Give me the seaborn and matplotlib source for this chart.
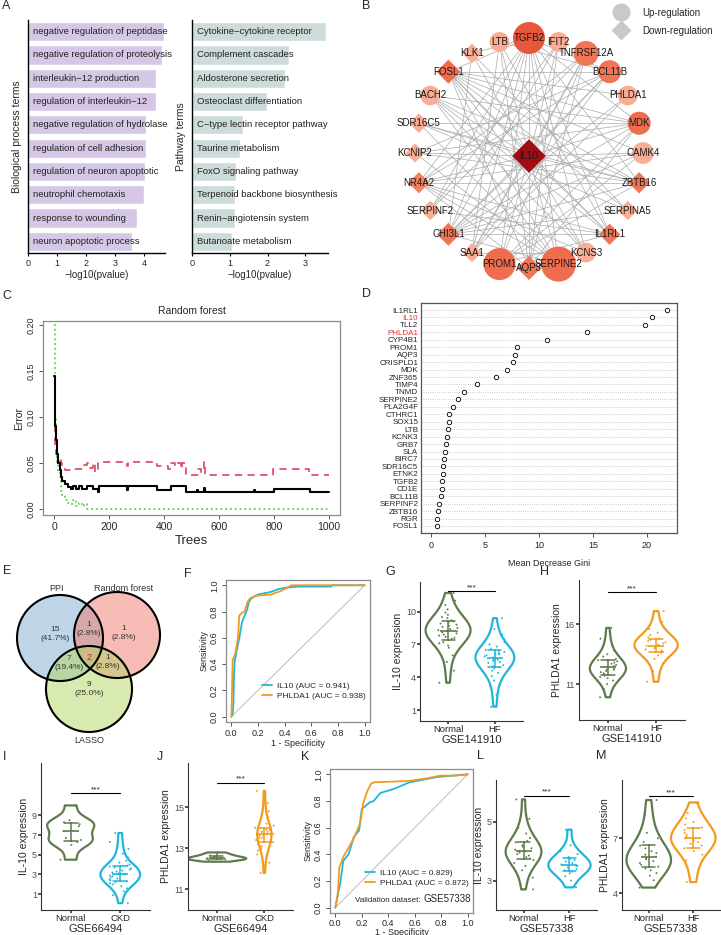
import numpy as np
import pandas as pd
import matplotlib.pyplot as plt
from matplotlib.lines import Line2D
from matplotlib.patches import Circle
from matplotlib.colors import LinearSegmentedColormap
import seaborn as sns

sns.set_style('white')
plt.rcParams['font.family'] = ['Liberation Sans', 'DejaVu Sans']
plt.rcParams['axes.linewidth'] = 0.8
np.random.seed(7)

#### DATA ####
# A: enrichment
bp_terms = ['negative regulation of peptidase', 'negative regulation of proteolysis',
            'interleukin\u221212 production', 'regulation of interleukin\u221212',
            'negative regulation of hydrolase', 'regulation of cell adhesion',
            'regulation of neuron apoptotic', 'neutrophil chemotaxis',
            'response to wounding', 'neuron apoptotic process']
bp_logp = [4.67, 4.60, 4.42, 4.42, 4.07, 4.07, 4.04, 3.98, 3.76, 3.60]
kegg_terms = ['Cytokine\u2212cytokine receptor', 'Complement cascades', 'Aldosterone secretion',
              'Osteoclast differentiation', 'C\u2212type lectin receptor pathway', 'Taurine metabolism',
              'FoxO signaling pathway', 'Terpenoid backbone biosynthesis',
              'Renin\u2212angiotensin system', 'Butanoate metabolism']
kegg_logp = [3.54, 2.58, 2.45, 1.99, 1.36, 1.27, 1.17, 1.14, 1.14, 1.07]

# B: PPI network
ring_genes = ['TGFB2', 'IFIT2', 'TNFRSF12A', 'BCL11B', 'PHLDA1', 'MDK', 'CAMK4', 'ZBTB16',
              'SERPINA5', 'IL1RL1', 'KCNS3', 'SERPINE2', 'AQP3', 'PROM1', 'SAA1', 'CHI3L1',
              'SERPINF2', 'NR4A2', 'KCNIP2', 'SDR16C5', 'BACH2', 'FOSL1', 'KLK1', 'LTB']
ring_reg = ['Up', 'Up', 'Up', 'Up', 'Up', 'Up', 'Up', 'Down', 'Down', 'Down', 'Up', 'Up',
            'Down', 'Up', 'Down', 'Down', 'Down', 'Down', 'Down', 'Down', 'Up', 'Down', 'Down', 'Up']
ring_degree = [14, 5, 10, 10, 5, 11, 5, 10, 5, 10, 5, 11, 10, 11, 5, 10, 5, 9, 5, 5, 5, 11, 5, 5]
ring_lfc = [1.55, 0.8, 1.08, 0.97, 0.8, 0.97, 0.9, 0.91, 0.8, 0.91, 0.8, 1.79, 1.07, 1.55, 0.8, 1.01,
            0.82, 0.91, 0.8, 0.82, 0.8, 1.07, 0.82, 0.8]
hub_gene, hub_reg, hub_degree, hub_lfc = 'IL10', 'Down', 21, 1.76
ppi_edges = [
    ('IL10', 'TGFB2'), ('IL10', 'LTB'), ('IL10', 'KLK1'), ('IL10', 'FOSL1'), ('IL10', 'BACH2'),
    ('IL10', 'SDR16C5'), ('IL10', 'KCNIP2'), ('IL10', 'NR4A2'), ('IL10', 'CHI3L1'), ('IL10', 'SAA1'),
    ('IL10', 'PROM1'), ('IL10', 'AQP3'), ('IL10', 'SERPINE2'), ('IL10', 'KCNS3'), ('IL10', 'IL1RL1'),
    ('IL10', 'ZBTB16'), ('IL10', 'CAMK4'), ('IL10', 'MDK'), ('IL10', 'BCL11B'), ('IL10', 'TNFRSF12A'),
    ('IL10', 'IFIT2'),
    ('TGFB2', 'FOSL1'), ('TGFB2', 'MDK'), ('TGFB2', 'SERPINE2'), ('TGFB2', 'CHI3L1'), ('TGFB2', 'NR4A2'),
    ('TGFB2', 'BCL11B'), ('TGFB2', 'PROM1'), ('TGFB2', 'IL1RL1'), ('TGFB2', 'SAA1'), ('TGFB2', 'ZBTB16'),
    ('TGFB2', 'KLK1'), ('TGFB2', 'SERPINF2'), ('TGFB2', 'KCNS3'),
    ('MDK', 'FOSL1'), ('MDK', 'BACH2'), ('MDK', 'SDR16C5'), ('MDK', 'PROM1'), ('MDK', 'AQP3'),
    ('MDK', 'CHI3L1'), ('MDK', 'KCNIP2'),
    ('FOSL1', 'SERPINE2'), ('FOSL1', 'CAMK4'), ('FOSL1', 'PHLDA1'), ('FOSL1', 'ZBTB16'), ('FOSL1', 'IL1RL1'),
    ('FOSL1', 'SERPINA5'), ('FOSL1', 'AQP3'), ('FOSL1', 'BCL11B'), ('FOSL1', 'KCNS3'),
    ('BCL11B', 'CHI3L1'), ('BCL11B', 'NR4A2'), ('BCL11B', 'KCNIP2'), ('BCL11B', 'SAA1'), ('BCL11B', 'LTB'),
    ('TNFRSF12A', 'SERPINF2'), ('TNFRSF12A', 'SAA1'), ('TNFRSF12A', 'AQP3'), ('TNFRSF12A', 'PROM1'),
    ('TNFRSF12A', 'NR4A2'),
    ('CHI3L1', 'ZBTB16'), ('CHI3L1', 'SERPINA5'), ('CHI3L1', 'IL1RL1'), ('CHI3L1', 'SERPINE2'),
    ('CHI3L1', 'CAMK4'), ('CHI3L1', 'PHLDA1'),
    ('SERPINE2', 'NR4A2'), ('SERPINE2', 'SDR16C5'), ('SERPINE2', 'KCNIP2'), ('SERPINE2', 'BACH2'),
    ('PROM1', 'ZBTB16'), ('PROM1', 'IL1RL1'), ('PROM1', 'CAMK4'),
    ('ZBTB16', 'NR4A2'), ('ZBTB16', 'KCNIP2'), ('ZBTB16', 'SDR16C5'), ('ZBTB16', 'BACH2'),
    ('IL1RL1', 'NR4A2'), ('IL1RL1', 'SERPINF2'), ('IL1RL1', 'BACH2'), ('IL1RL1', 'LTB'),
    ('AQP3', 'LTB'), ('AQP3', 'IFIT2'), ('AQP3', 'NR4A2'),
    ('KCNS3', 'NR4A2'), ('KCNS3', 'SAA1'), ('KCNS3', 'BACH2'),
    ('LTB', 'SAA1'), ('IFIT2', 'SERPINF2'), ('KLK1', 'SERPINA5'), ('PHLDA1', 'SAA1'),
    ('CAMK4', 'NR4A2'), ('SERPINA5', 'SDR16C5'), ('KLK1', 'CHI3L1'), ('IFIT2', 'CHI3L1'),
]

# C: random forest error vs trees
oob_trees = [1, 3, 5, 8, 12, 16, 20, 25, 30, 40, 50, 60, 70, 80, 90, 100, 120, 140, 160, 165,
             265, 268, 370, 375, 420, 425, 475, 480, 520, 523, 545, 548, 727, 730, 795, 800, 925, 930, 1000]
oob_err = [0.145, 0.11, 0.09, 0.075, 0.06, 0.05, 0.042, 0.035, 0.03, 0.027, 0.024, 0.022, 0.025, 0.022,
           0.025, 0.022, 0.025, 0.022, 0.018, 0.025, 0.021, 0.025, 0.025, 0.021, 0.021, 0.025, 0.025, 0.018,
           0.021, 0.018, 0.023, 0.018, 0.021, 0.018, 0.018, 0.022, 0.022, 0.018, 0.018]
c1_trees = [1, 3, 5, 7, 9, 12, 16, 20, 25, 30, 40, 60, 100, 110, 120, 130, 140, 150, 160, 265, 270,
            370, 375, 410, 415, 420, 440, 445, 460, 465, 480, 520, 525, 535, 545, 548, 790, 795, 925, 928, 1000]
c1_err = [0.09, 0.085, 0.07, 0.065, 0.06, 0.055, 0.05, 0.055, 0.05, 0.045, 0.042, 0.044, 0.044, 0.048,
          0.05, 0.045, 0.05, 0.04, 0.051, 0.047, 0.051, 0.051, 0.047, 0.047, 0.044, 0.05, 0.047, 0.05,
          0.044, 0.05, 0.037, 0.037, 0.044, 0.04, 0.051, 0.037, 0.037, 0.044, 0.044, 0.037, 0.037]
c0_trees = [1, 3, 5, 8, 12, 16, 20, 25, 30, 40, 50, 60, 70, 80, 90, 100, 110, 120, 1000]
c0_err = [0.2, 0.15, 0.1, 0.07, 0.05, 0.04, 0.035, 0.02, 0.015, 0.01, 0.007, 0.005, 0.01, 0.003,
          0.007, 0.003, 0.005, 0.0, 0.0]

# D: gene importance
gini_genes = ['IL1RL1', 'IL10', 'TLL2', 'PHLDA1', 'CYP4B1', 'PROM1', 'AQP3', 'CRISPLD1', 'MDK',
              'ZNF365', 'TIMP4', 'TNMD', 'SERPINE2', 'PLA2G4F', 'CTHRC1', 'SOX15', 'LTB', 'KCNK3',
              'GRB7', 'SLA', 'BIRC7', 'SDR16C5', 'ETNK2', 'TGFB2', 'CD1E', 'BCL11B', 'SERPINF2',
              'ZBTB16', 'RGR', 'FOSL1']
gini_vals = [21.85, 20.5, 19.8, 14.5, 10.75, 7.96, 7.8, 7.6, 7.0, 6.02, 4.27, 3.07, 2.47, 2.07, 1.7,
             1.64, 1.55, 1.45, 1.42, 1.27, 1.24, 1.12, 1.08, 1.05, 0.99, 0.9, 0.77, 0.65, 0.52, 0.52]
gini_highlight = ['IL10', 'PHLDA1']

# E: venn
venn_sets = ['PPI', 'Random forest', 'LASSO']
venn_regions = ['PPI', 'RF', 'LASSO', 'PPI&RF', 'PPI&LASSO', 'RF&LASSO', 'ALL']
venn_counts = [15, 1, 9, 1, 7, 1, 2]

# F / K: ROC curves
f_il10_fpr = [0, 0.01, 0.015, 0.02, 0.025, 0.04, 0.06, 0.08, 0.10, 0.12, 0.13, 0.15, 0.20, 0.30,
              0.35, 0.40, 0.50, 0.75, 0.75, 1.0]
f_il10_tpr = [0, 0.02, 0.10, 0.30, 0.42, 0.50, 0.60, 0.72, 0.77, 0.82, 0.87, 0.90, 0.93, 0.95,
              0.97, 0.98, 0.99, 0.99, 1.0, 1.0]
f_ph_fpr = [0, 0.005, 0.01, 0.03, 0.05, 0.06, 0.08, 0.10, 0.12, 0.14, 0.18, 0.30, 0.38, 0.45, 1.0]
f_ph_tpr = [0, 0.20, 0.43, 0.48, 0.60, 0.77, 0.79, 0.80, 0.87, 0.90, 0.92, 0.93, 0.96, 1.0, 1.0]
k_il10_fpr = [0, 0.02, 0.04, 0.06, 0.10, 0.14, 0.18, 0.20, 0.26, 0.29, 0.34, 0.44, 0.56, 0.77, 0.88, 1.0]
k_il10_tpr = [0, 0.10, 0.20, 0.35, 0.40, 0.53, 0.58, 0.74, 0.79, 0.80, 0.86, 0.89, 0.94, 0.98, 0.99, 1.0]
k_ph_fpr = [0, 0.01, 0.02, 0.03, 0.06, 0.10, 0.14, 0.19, 0.21, 0.24, 0.27, 0.29, 0.55, 0.69, 0.79, 0.90, 1.0]
k_ph_tpr = [0, 0.05, 0.12, 0.30, 0.38, 0.45, 0.52, 0.64, 0.78, 0.87, 0.93, 0.94, 0.95, 0.97, 0.99, 0.99, 1.0]
f_auc = {'IL10': 0.941, 'PHLDA1': 0.938}
k_auc = {'IL10': 0.829, 'PHLDA1': 0.872}

# G-M: expression values
g_normal = [3.5, 4.6, 5.4, 6.0, 6.4, 6.7, 6.9, 7.1, 7.2, 7.4, 7.5, 7.6, 7.7, 7.8, 7.9, 8.0, 8.1, 8.2,
            8.2, 8.3, 8.4, 8.5, 8.6, 8.7, 8.8, 8.9, 9.0, 9.1, 9.2, 9.4, 9.5, 9.7, 9.9, 10.2, 10.6, 11.0, 11.7]
g_hf = [1.3, 2.4, 3.2, 3.7, 4.1, 4.4, 4.6, 4.8, 4.9, 5.0, 5.1, 5.3, 5.4, 5.5, 5.6, 5.6, 5.7, 5.8, 5.9,
        6.0, 6.1, 6.1, 6.2, 6.3, 6.4, 6.5, 6.6, 6.8, 7.0, 7.2, 7.5, 7.9, 8.4, 9.4]
h_normal = [9.9, 10.6, 11.0, 11.3, 11.5, 11.6, 11.7, 11.8, 11.9, 12.0, 12.1, 12.2, 12.2, 12.3, 12.4,
            12.4, 12.5, 12.6, 12.7, 12.8, 12.9, 13.0, 13.1, 13.3, 13.5, 13.8, 14.2, 14.8, 15.7]
h_hf = [11.2, 12.1, 12.7, 13.1, 13.4, 13.6, 13.7, 13.8, 13.9, 14.0, 14.1, 14.2, 14.2, 14.3, 14.4,
        14.5, 14.6, 14.7, 14.8, 14.9, 15.1, 15.3, 15.6, 16.2, 17.1]
i_normal = [4.5, 6.0, 6.3, 6.5, 6.7, 7.4, 7.9, 8.1, 8.3, 8.5, 10.0]
i_ckd = [0.1, 0.9, 1.3, 1.6, 1.8, 2.0, 2.1, 2.2, 2.3, 2.4, 2.5, 2.6, 2.7, 2.8, 2.9, 3.0, 3.0, 3.1,
         3.2, 3.3, 3.4, 3.5, 3.6, 3.7, 3.8, 3.9, 4.0, 4.2, 4.4, 4.7, 5.1, 5.6, 6.3, 7.2]
j_normal = [12.35, 12.42, 12.46, 12.48, 12.5, 12.52, 12.55, 12.6, 12.65, 12.72, 12.8]
j_ckd = [11.8, 12.3, 12.7, 12.9, 13.0, 13.1, 13.2, 13.3, 13.3, 13.4, 13.5, 13.5, 13.6, 13.6, 13.7,
         13.7, 13.8, 13.8, 13.9, 13.9, 14.0, 14.0, 14.1, 14.2, 14.3, 14.5, 14.8, 15.2, 15.8]
l_normal = [2.7, 3.1, 3.35, 3.5, 3.6, 3.7, 3.75, 3.8, 3.85, 3.9, 3.95, 4.0, 4.0, 4.05, 4.1, 4.15,
            4.2, 4.3, 4.35, 4.45, 4.6, 4.8, 5.1, 5.76]
l_hf = [2.77, 3.0, 3.15, 3.25, 3.3, 3.35, 3.4, 3.45, 3.5, 3.5, 3.55, 3.6, 3.65, 3.7, 3.75, 3.8,
        3.9, 4.0, 4.2, 4.73]
m_normal = [4.3, 4.7, 4.95, 5.1, 5.25, 5.35, 5.45, 5.55, 5.65, 5.75, 5.85, 5.9, 6.0, 6.1, 6.2, 6.3,
            6.45, 6.6, 6.8, 7.0, 7.3, 7.7, 8.3, 9.1]
m_hf = [4.6, 5.3, 5.8, 6.1, 6.3, 6.45, 6.6, 6.7, 6.8, 6.9, 7.0, 7.0, 7.1, 7.2, 7.3, 7.45, 7.6,
        7.75, 7.9, 8.1, 8.4, 8.97]

GREEN = '#5E7B4C'
CYAN = '#1FB6D9'
ORANGE = '#F39A1E'

#### FIGURE ####
W, H = 721, 935
fig = plt.figure(figsize=(W / 100, H / 100), dpi=100)


def box(l, t, r, b):
    return fig.add_axes([l / W, 1 - b / H, (r - l) / W, (b - t) / H])


def letter(x, y, s):
    fig.text(x / W, 1 - y / H, s, fontsize=9, ha='left', va='center')


def r_style(ax):
    for s in ax.spines.values():
        s.set_visible(True)
        s.set_color('#8C8C8C')
        s.set_linewidth(0.9)
    ax.tick_params(length=3, width=0.7, color='#555555', labelsize=6.5, pad=2, left=True, bottom=True)
    ax.tick_params(axis='y', labelrotation=90)
    for t in ax.get_yticklabels():
        t.set_va('center')


# ---- A ----
def term_bars(rect, terms, vals, color, ylabel, xmax, xticks):
    ax = box(*rect)
    sns.barplot(x=vals, y=terms, orient='h', color=color, saturation=1, width=0.82, ax=ax)
    for i, t in enumerate(terms):
        ax.text(0.035, i, t, va='center', ha='left', fontsize=6.8, color='#222222',
                transform=ax.get_yaxis_transform())
    ax.set_xlim(0, xmax)
    ax.set_xticks(xticks)
    ax.set_yticks([])
    ax.set_ylabel(ylabel, fontsize=7.5, labelpad=4)
    ax.set_xlabel('\u2212log10(pvalue)', fontsize=7, labelpad=2)
    sns.despine(ax=ax)
    for s in ['left', 'bottom']:
        ax.spines[s].set_color('black')
        ax.spines[s].set_linewidth(1.0)
    ax.tick_params(axis='x', length=2.5, width=0.8, labelsize=6.5, pad=1.5, color='black', bottom=True)


term_bars((28, 20, 165, 253), bp_terms, bp_logp, '#D7C7E6', 'Biological process terms', 4.72, [0, 1, 2, 3, 4])
term_bars((192, 20, 328, 253), kegg_terms, kegg_logp, '#CDDCDA', 'Pathway terms', 3.6, [0, 1, 2, 3])
letter(2, 6, 'A')

# ---- B ----
ax = box(360, 0, 721, 290)
ang = np.deg2rad(90 - 360 / len(ring_genes) * np.arange(len(ring_genes)))
pos = {g: (529 + 114 * np.cos(a), 153 - 115 * np.sin(a)) for g, a in zip(ring_genes, ang)}
pos[hub_gene] = (529, 156)
for a, b in ppi_edges:
    ax.plot([pos[a][0], pos[b][0]], [pos[a][1], pos[b][1]], color='#ABABAB', lw=0.5, zorder=1)
nodes = pd.DataFrame({'gene': ring_genes + [hub_gene], 'reg': ring_reg + [hub_reg],
                      'degree': ring_degree + [hub_degree], 'lfc': ring_lfc + [hub_lfc]})
nodes['x'] = [pos[g][0] for g in nodes['gene']]
nodes['y'] = [pos[g][1] for g in nodes['gene']]
deg_cmap = LinearSegmentedColormap.from_list('deg', ['#F8AD94', '#F07252', '#E24B33', '#9E0E12'])
for reg, mk, size_range in [('Up', 'o', (200, 640)), ('Down', 'D', (95, 300))]:
    sub = nodes[nodes['reg'] == reg]
    sns.scatterplot(data=sub, x='x', y='y', hue='degree', palette=deg_cmap, hue_norm=(5, 21),
                    size='lfc', sizes=size_range, size_norm=(0.8, 1.8), marker=mk,
                    linewidth=0, legend=False, ax=ax, zorder=3)
for _, r in nodes.iterrows():
    ax.text(r['x'], r['y'], r['gene'], ha='center', va='center', fontsize=7, color='#1A1A1A', zorder=4)
ax.set_xlim(360, 721)
ax.set_ylim(290, 0)
ax.set_axis_off()
handles = [Line2D([0], [0], marker='o', ls='', color='#C9C9C9', markersize=12),
           Line2D([0], [0], marker='D', ls='', color='#C9C9C9', markersize=9)]
ax.legend(handles, ['Up-regulation', 'Down-regulation'], loc='upper right', bbox_to_anchor=(1.0, 1.0),
          frameon=False, fontsize=7, handletextpad=1.2, labelspacing=0.8, borderaxespad=0.4)
letter(362, 6, 'B')

# ---- C ----
ax = box(43, 321, 340, 515)
sns.lineplot(x=c0_trees, y=c0_err, estimator=None, sort=False, color='#61D04F', lw=1.3,
             ls=':', drawstyle='steps-post', ax=ax)
sns.lineplot(x=c1_trees, y=c1_err, estimator=None, sort=False, color='#DF536B', lw=1.3,
             dashes=(4, 3), drawstyle='steps-post', ax=ax)
sns.lineplot(x=oob_trees, y=oob_err, estimator=None, sort=False, color='black', lw=1.5,
             drawstyle='steps-post', ax=ax)
ax.set_xlim(-40, 1040)
ax.set_ylim(-0.0065, 0.2045)
ax.set_xticks([0, 200, 400, 600, 800, 1000])
ax.set_yticks([0, 0.05, 0.10, 0.15, 0.20])
ax.set_yticklabels(['0.00', '0.05', '0.10', '0.15', '0.20'])
r_style(ax)
ax.tick_params(axis='x', labelsize=7.5)
ax.set_title('Random forest', fontsize=7.5, pad=5)
ax.set_xlabel('Trees', fontsize=9.5, labelpad=2)
ax.set_ylabel('Error', fontsize=7.5, labelpad=2)
letter(2, 296, 'C')

# ---- D ----
ax = box(421, 303, 677, 533)
sns.stripplot(x=gini_vals, y=gini_genes, orient='h', jitter=False, color='white', edgecolor='black',
              linewidth=0.6, size=3.2, ax=ax, zorder=3)
ax.set_ylim(29.94, -0.94)
ax.set_xlim(-0.93, 22.8)
ax.grid(axis='y', ls=':', color='#BBBBBB', lw=0.6)
ax.set_axisbelow(True)
for s in ax.spines.values():
    s.set_visible(True)
    s.set_color('#555555')
    s.set_linewidth(0.9)
ax.set_xticks([0, 5, 10, 15, 20])
ax.tick_params(axis='y', length=0, labelsize=5.8, pad=2)
ax.tick_params(axis='x', length=3, width=0.7, color='#555555', labelsize=6.5, pad=3, bottom=True)
for t in ax.get_yticklabels():
    if t.get_text() in gini_highlight:
        t.set_color('#E8302A')
ax.set_xlabel('Mean Decrease Gini', fontsize=6.5, labelpad=6)
letter(362, 294, 'D')

# ---- E ----
ax = box(0, 575, 175, 745)
centers = {'PPI': (60, 638), 'Random forest': (117, 635), 'LASSO': (89, 689)}
fills = {'PPI': '#7EAED3', 'Random forest': '#EE7B6D', 'LASSO': '#B4D662'}
for s in venn_sets:
    ax.add_patch(Circle(centers[s], 43, facecolor=fills[s], alpha=0.5, edgecolor='none'))
for s in venn_sets:
    ax.add_patch(Circle(centers[s], 43, facecolor='none', edgecolor='black', lw=1.5))
region_xy = {'PPI': (55, 634), 'RF': (124, 633), 'LASSO': (89, 689), 'PPI&RF': (89, 629),
             'PPI&LASSO': (69, 663), 'RF&LASSO': (108, 662), 'ALL': (89, 657)}
total = sum(venn_counts)
for reg, n in zip(venn_regions, venn_counts):
    x, y = region_xy[reg]
    if reg == 'ALL':
        ax.text(x, y, str(n), ha='center', va='center', fontsize=6.5, color='#E41A1C')
    else:
        ax.text(x, y, f'{n}\n({100 * n / total:.1f}%)', ha='center', va='center', fontsize=6,
                color='#333333', linespacing=1.35)
ax.text(57, 588, 'PPI', ha='center', va='center', fontsize=6.5, color='#333333')
ax.text(124, 588, 'Random forest', ha='center', va='center', fontsize=6.5, color='#333333')
ax.text(89, 740, 'LASSO', ha='center', va='center', fontsize=6.5, color='#333333')
ax.set_xlim(0, 175)
ax.set_ylim(745, 575)
ax.set_axis_off()
letter(3, 571, 'E')


# ---- F / K ----
def roc_panel(rect, curves, auc):
    ax = box(*rect)
    ax.plot([0, 1], [0, 1], color='#B0B0B0', lw=0.6)
    for (fpr, tpr), name, col in zip(curves, ['IL10', 'PHLDA1'], [CYAN, ORANGE]):
        sns.lineplot(x=fpr, y=tpr, estimator=None, sort=False, color=col, lw=1.3,
                     label=f'{name} (AUC = {auc[name]:.3f})', ax=ax)
    ax.set_xlim(-0.04, 1.04)
    ax.set_ylim(-0.04, 1.04)
    ticks = [0, 0.2, 0.4, 0.6, 0.8, 1.0]
    ax.set_xticks(ticks)
    ax.set_yticks(ticks)
    ax.set_xticklabels([f'{t:.1f}' for t in ticks])
    ax.set_yticklabels([f'{t:.1f}' for t in ticks])
    r_style(ax)
    ax.set_xlabel('1 - Specificity', fontsize=6.5, labelpad=1)
    ax.set_ylabel('Sensitivity', fontsize=6.5, labelpad=1)
    return ax


ax = roc_panel((226, 580, 370, 722), [(f_il10_fpr, f_il10_tpr), (f_ph_fpr, f_ph_tpr)], f_auc)
ax.legend(loc='lower right', bbox_to_anchor=(1.02, 0.1), frameon=False, fontsize=6,
          handlelength=1.3, handletextpad=0.5, labelspacing=0.3)
letter(184, 574, 'F')

ax = roc_panel((330, 769, 473, 913), [(k_il10_fpr, k_il10_tpr), (k_ph_fpr, k_ph_tpr)], k_auc)
ax.tick_params(axis='x', pad=1)
ax.set_xlabel('1 - Specificity', fontsize=6.5, labelpad=0)
ax.legend(loc='lower right', bbox_to_anchor=(1.02, 0.13), frameon=False, fontsize=6,
          handlelength=1.3, handletextpad=0.5, labelspacing=0.2)
gse = ax.text(0.985, 0.06, 'GSE57338', transform=ax.transAxes, ha='right', va='bottom', fontsize=7)
ax.annotate('Validation dataset: ', xy=(0, 0.05), xycoords=gse, ha='right', va='bottom', fontsize=5.8)
letter(301, 757, 'K')


# ---- violins ----
def violin_panel(rect, labels, a, b, col_b, ylabel, dataset, yticks, ylim, sig_y,
                 widths=(0.92, 0.92), bw=1.0):
    ax = box(*rect)
    df = pd.DataFrame({'group': [labels[0]] * len(a) + [labels[1]] * len(b), 'value': a + b})
    pal = {labels[0]: GREEN, labels[1]: col_b}
    for g, w in zip(labels, widths):
        sns.violinplot(data=df[df['group'] == g], x='group', y='value', order=labels, color=pal[g],
                       fill=False, inner=None, cut=0, linewidth=1.6, density_norm='width', width=w,
                       bw_adjust=bw, ax=ax)
    sns.stripplot(data=df, x='group', y='value', hue='group', palette=pal, size=1.4, jitter=0.22,
                  legend=False, ax=ax, zorder=3)
    sns.pointplot(data=df, x='group', y='value', hue='group', palette=pal, estimator='median',
                  errorbar=('pi', 50), capsize=0.28, markers='_', markersize=11,
                  markeredgewidth=1.2, linestyles='none', err_kws={'linewidth': 1.1},
                  legend=False, ax=ax)
    ax.plot([0, 1], [sig_y, sig_y], color='black', lw=0.8)
    ax.text(0.5, sig_y, '***', ha='center', va='bottom', fontsize=6)
    ax.set_xlim(-0.6, 1.6)
    ax.set_ylim(*ylim)
    ax.set_yticks(yticks)
    ax.set_xlabel(dataset, fontsize=8, labelpad=0.5)
    ax.set_ylabel(ylabel, fontsize=7.5, labelpad=2)
    sns.despine(ax=ax)
    for s in ['left', 'bottom']:
        ax.spines[s].set_color('#333333')
        ax.spines[s].set_linewidth(0.8)
    ax.tick_params(axis='y', length=2, width=1.2, color='#333333', labelsize=6.5, labelcolor='#4D4D4D',
                   pad=1, left=True)
    ax.tick_params(axis='x', length=2, width=1.2, color='#333333', labelsize=6.8, pad=1, bottom=True)
    return ax


violin_panel((420, 582, 523, 721), ['Normal', 'HF'], g_normal, g_hf, CYAN, 'IL-10 expression',
             'GSE141910', [1, 4, 7, 10], (0, 12.7), 11.85, widths=(0.96, 0.83))
letter(385, 572, 'G')
violin_panel((579, 580, 685, 720), ['Normal', 'HF'], h_normal, h_hf, ORANGE, 'PHLDA1 expression',
             'GSE141910', [11, 16], (8, 19.7), 18.7, widths=(0.75, 0.9))
letter(540, 572, 'H')
violin_panel((41, 763, 150, 910), ['Normal', 'CKD'], i_normal, i_ckd, CYAN, 'IL-10 expression',
             'GSE66494', [1, 3, 5, 7, 9], (-0.6, 14.3), 11.25, widths=(0.95, 0.8), bw=0.7)
letter(3, 757, 'I')
violin_panel((188, 763, 293, 910), ['Normal', 'CKD'], j_normal, j_ckd, ORANGE, 'PHLDA1 expression',
             'GSE66494', [11, 13, 15], (10, 17.15), 16.2, widths=(1.24, 0.3))
letter(157, 757, 'J')
violin_panel((496, 780, 597, 910), ['Normal', 'HF'], l_normal, l_hf, CYAN, 'IL-10 expression',
             'GSE57338', [3, 5], (2, 6.42), 5.88, widths=(0.78, 0.92))
letter(477, 756, 'L')
violin_panel((622, 780, 720, 910), ['Normal', 'HF'], m_normal, m_hf, ORANGE, 'PHLDA1 expression',
             'GSE57338', [4, 7], (3.07, 10.2), 9.3, widths=(1.0, 1.0))
letter(596, 756, 'M')

fig.savefig('out.png', dpi=100)
